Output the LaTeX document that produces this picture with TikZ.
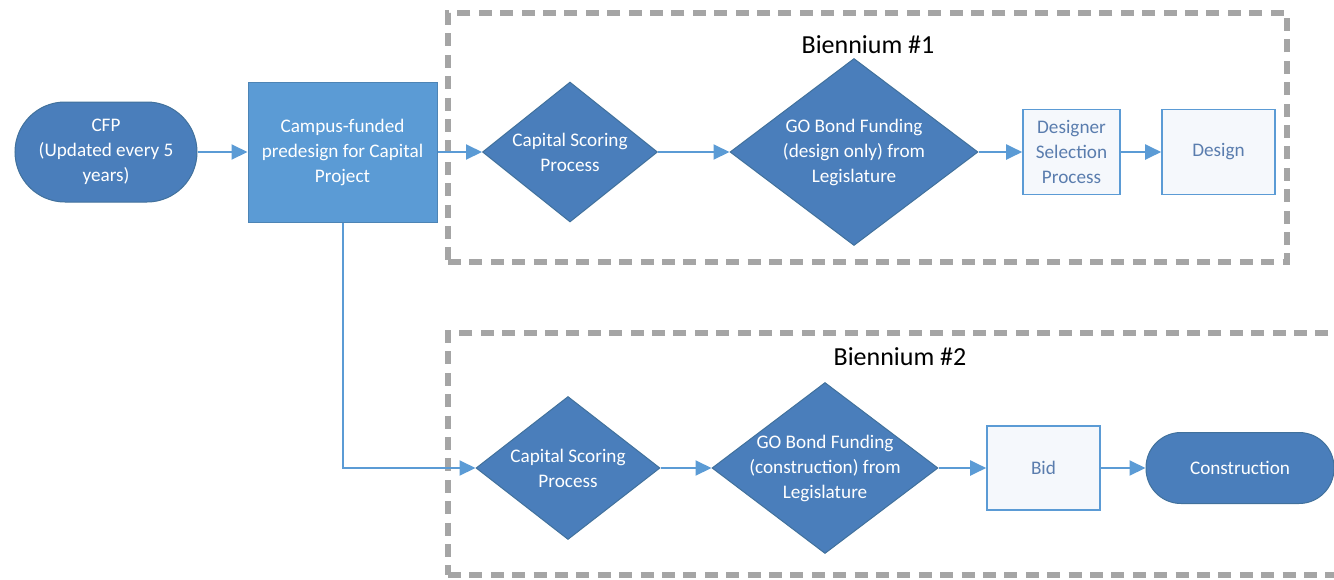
\documentclass[tikz,border=0pt]{standalone}
\usepackage{fontspec}
\setmainfont{Carlito}
\usetikzlibrary{shapes.geometric,arrows.meta}
\definecolor{darkblue}{HTML}{4A7EBB}
\definecolor{darkedge}{HTML}{41719C}
\definecolor{midblue}{HTML}{5B9BD5}
\definecolor{arrowblue}{HTML}{5B9BD5}
\definecolor{boxtext}{HTML}{5A7DAE}
\definecolor{dashgray}{HTML}{A5A5A5}
\definecolor{boxfill}{HTML}{F5F8FC}
\begin{document}
\begin{tikzpicture}[x=0.5pt,y=-0.5pt,
  txt/.style={font=\fontsize{9.6}{12.5}\selectfont, align=center},
  stad/.style={txt, rectangle, draw=darkedge, line width=0.5pt, fill=darkblue, text=white, inner sep=0pt},
  diam/.style={diamond, draw=darkedge, line width=0.5pt, fill=darkblue, inner sep=0pt},
  wtxt/.style={txt, text=white, inner sep=0pt},
  lbox/.style={txt, rectangle, draw=midblue, line width=0.8pt, fill=boxfill, text=boxtext, inner sep=0pt},
  arr/.style={draw=arrowblue, line width=1pt, -{Triangle[length=8pt,width=7.5pt]}},
  frame/.style={rectangle, draw=dashgray, line width=2.8pt, dash pattern=on 6.5pt off 4.2pt, inner sep=0pt},
  title/.style={font=\fontsize{13}{15}\selectfont, text=black}
]
\useasboundingbox (0,0) rectangle (1334,579);

% frames
\node[frame, minimum width=419.5pt, minimum height=124.5pt] (b1) at (867.5,137.5) {};
\node[frame, minimum width=448.5pt, minimum height=121pt] (b2) at (896.5,454) {};
\node[title] (b1t) at (868,45) {Biennium \#1};
\node[title] (b2t) at (900,357) {Biennium \#2};

% left part
\node[stad, rounded corners=25pt, minimum width=91pt, minimum height=50pt] (cfp) at (106,152) {CFP\\(Updated every 5\\years)};
\node[txt, rectangle, draw=midblue!85!black, line width=0.5pt, fill=midblue, text=white, inner sep=0pt,
      minimum width=94.5pt, minimum height=70pt] (campus) at (342.5,152) {Campus-funded\\predesign for Capital\\Project};

% biennium 1
\node[diam, minimum width=87.5pt, minimum height=70pt] (d1) at (570,152) {};
\node[wtxt] (d1t) at (d1) {Capital Scoring\\Process};
\node[diam, minimum width=124pt, minimum height=93.5pt] (d2) at (854,152) {};
\node[wtxt] (d2t) at (d2) {GO Bond Funding\\(design only) from\\Legislature};
\node[lbox, minimum width=48.5pt, minimum height=42.5pt] (dsel) at (1071.5,152) {Designer\\Selection\\Process};
\node[lbox, minimum width=56.5pt, minimum height=42.5pt] (design) at (1218.5,152) {Design};

% biennium 2
\node[diam, minimum width=92pt, minimum height=71.5pt] (d3) at (568,468) {};
\node[wtxt] (d3t) at (d3) {Capital Scoring\\Process};
\node[diam, minimum width=113pt, minimum height=85.5pt] (d4) at (825,468) {};
\node[wtxt] (d4t) at (d4) {GO Bond Funding\\(construction) from\\Legislature};
\node[lbox, minimum width=56.5pt, minimum height=42pt] (bid) at (1043.5,468) {Bid};
\node[stad, rounded corners=17.5pt, minimum width=94pt, minimum height=35.5pt] (cons) at (1240,468) {Construction};

% connectors
\draw[arr] (cfp) -- (campus);
\draw[arr] (campus) -- (d1);
\draw[arr] (d1) -- (d2);
\draw[arr] (d2) -- (dsel);
\draw[arr] (dsel) -- (design);
\draw[arr] (campus.south) |- (d3.west);
\draw[arr] (d3) -- (d4);
\draw[arr] (d4) -- (bid);
\draw[arr] (bid) -- (cons);
\end{tikzpicture}
\end{document}
